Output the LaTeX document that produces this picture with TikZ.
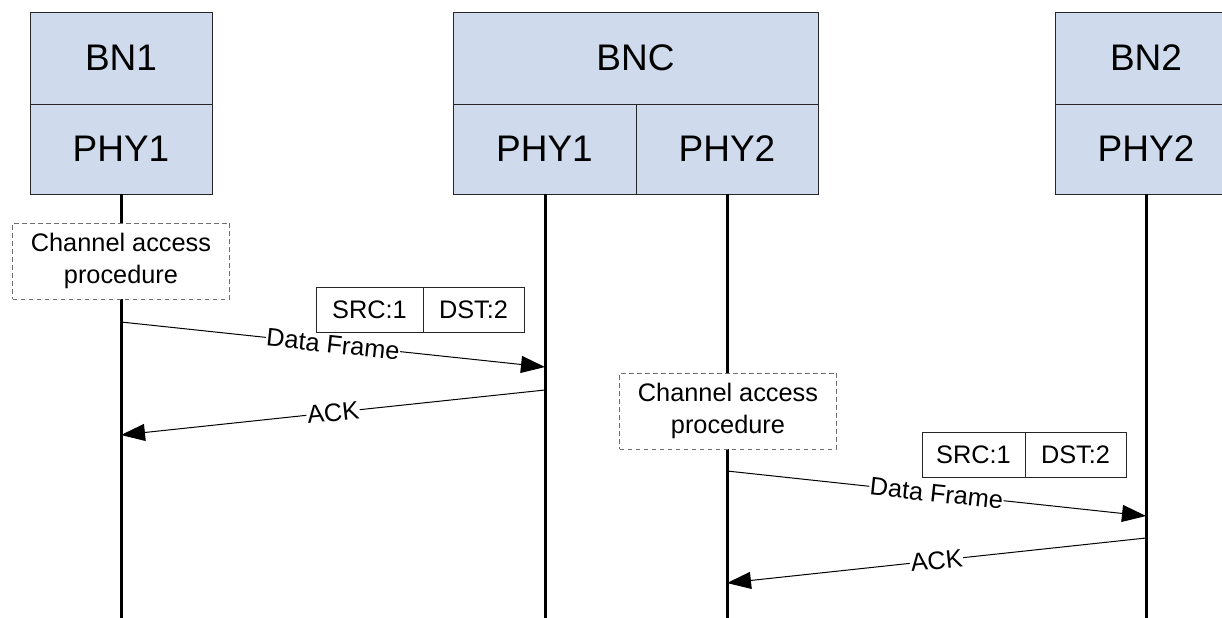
\documentclass[tikz,border=0pt]{standalone}
\usepackage{fontspec}
\setmainfont{Liberation Sans}
\usetikzlibrary{arrows.meta}
\definecolor{boxfill}{RGB}{207,219,236}
\definecolor{dashgray}{RGB}{110,110,110}
\begin{document}
\begin{tikzpicture}[x=0.75pt,y=-0.75pt,
  layer/.style={draw=black!85, fill=boxfill, line width=0.75pt, inner sep=0pt,
    font=\fontsize{27.75}{30}\selectfont, minimum width=136.5pt},
  toprow/.style={layer, minimum height=69pt},
  botrow/.style={layer, minimum height=67.5pt},
  lifeline/.style={line width=2.25pt},
  procbox/.style={draw=dashgray, dashed, dash pattern=on 3.5pt off 2.5pt, fill=white, line width=0.6pt,
    minimum width=162.75pt, minimum height=57pt, align=center, inner sep=0pt,
    font=\fontsize{19}{24}\selectfont},
  hdrcell/.style={draw=black!85, fill=white, line width=0.6pt, minimum height=33.75pt, inner sep=0pt,
    font=\fontsize{19}{22}\selectfont},
  msg/.style={line width=0.75pt, -{Triangle[length=18pt,width=12.75pt]}},
  msglabel/.style={midway, sloped, fill=white, inner sep=0.5pt, font=\fontsize{19}{22}\selectfont}
]
\useasboundingbox (0,0) rectangle (1222,618);

% Header boxes
\node[toprow] (bn1) at (121,58) {BN1};
\node[botrow] (bn1phy) at (121,149) {PHY1};
\node[toprow, minimum width=273.75pt] (bnc) at (635.5,58) {BNC};
\node[botrow, minimum width=137.25pt] (bncphy1) at (544.5,149) {PHY1};
\node[botrow] (bncphy2) at (727,149) {PHY2};
\node[toprow] (bn2) at (1146,58) {BN2};
\node[botrow] (bn2phy) at (1146,149) {PHY2};

% Lifeline ends
\coordinate (l1) at (121,618);
\coordinate (l2) at (545,618);
\coordinate (l3) at (727,618);
\coordinate (l4) at (1146,618);
\draw[lifeline] (121,194) -- (l1);
\draw[lifeline] (545,194) -- (l2);
\draw[lifeline] (727,194) -- (l3);
\draw[lifeline] (1146,194) -- (l4);

% Channel access procedures
\node[procbox] (cap1) at (121,261) {Channel access\\procedure};
\node[procbox] (cap2) at (728,411) {Channel access\\procedure};

% Frame headers
\node[hdrcell, minimum width=80.25pt] (src1) at (369.5,309.5) {SRC:1};
\node[hdrcell, minimum width=75.75pt] (dst1) at (473.5,309.5) {DST:2};
\node[hdrcell, minimum width=77.25pt] (src2) at (973.5,454.5) {SRC:1};
\node[hdrcell, minimum width=75.75pt] (dst2) at (1075.5,454.5) {DST:2};

% Message points
\coordinate (d1s) at (121,322);
\coordinate (d1e) at (545,367);
\coordinate (a1s) at (545,390);
\coordinate (a1e) at (121,435);
\coordinate (d2s) at (727,471);
\coordinate (d2e) at (1146,516);
\coordinate (a2s) at (1146,538);
\coordinate (a2e) at (727,583);

\draw[msg] (d1s) -- node[msglabel] {Data Frame} (d1e);
\draw[msg] (a1s) -- node[msglabel] {ACK} (a1e);
\draw[msg] (d2s) -- node[msglabel] {Data Frame} (d2e);
\draw[msg] (a2s) -- node[msglabel] {ACK} (a2e);
\end{tikzpicture}
\end{document}
